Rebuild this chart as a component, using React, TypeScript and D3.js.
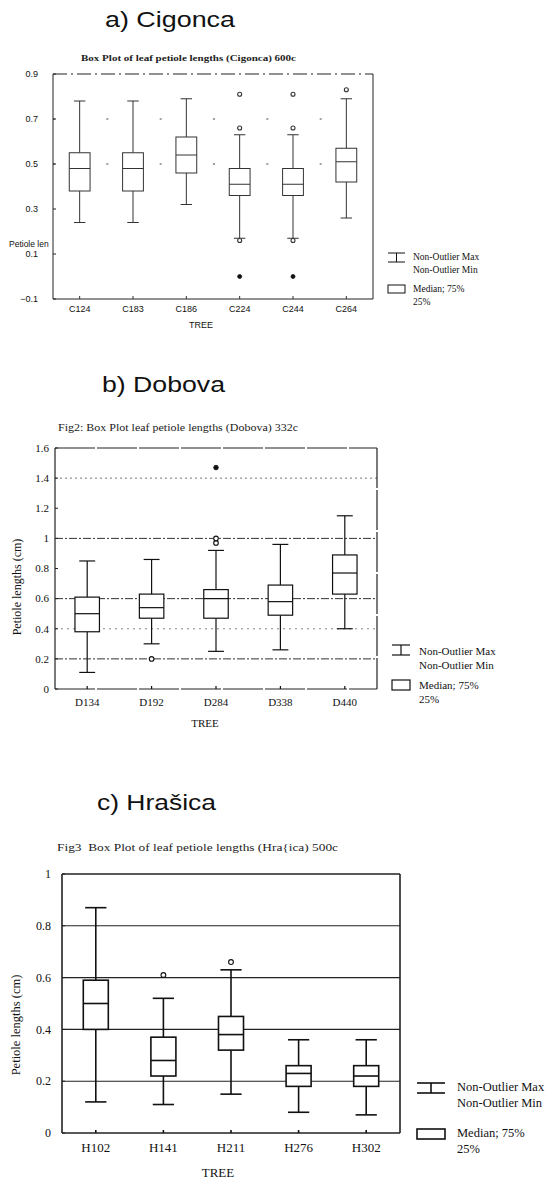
import React from 'react';
import * as d3 from 'd3';

// a) Cigonca
const cigTrees = ['C124', 'C183', 'C186', 'C224', 'C244', 'C264'];
const cigMin = [0.24, 0.24, 0.32, 0.17, 0.17, 0.26];
const cigQ1 = [0.38, 0.38, 0.46, 0.36, 0.36, 0.42];
const cigMed = [0.48, 0.48, 0.54, 0.41, 0.41, 0.51];
const cigQ3 = [0.55, 0.55, 0.62, 0.48, 0.48, 0.57];
const cigMax = [0.78, 0.78, 0.79, 0.63, 0.63, 0.79];
const cigOutliers = [[], [], [], [0.66, 0.81, 0.16], [0.66, 0.81, 0.16], [0.83]];
const cigExtremes = [[], [], [], [0.0], [0.0], []];
const cigTicks = [-0.1, 0.1, 0.3, 0.5, 0.7, 0.9];

// b) Dobova
const dobTrees = ['D134', 'D192', 'D284', 'D338', 'D440'];
const dobMin = [0.11, 0.3, 0.25, 0.26, 0.4];
const dobQ1 = [0.38, 0.47, 0.47, 0.49, 0.63];
const dobMed = [0.5, 0.54, 0.6, 0.58, 0.77];
const dobQ3 = [0.61, 0.63, 0.66, 0.69, 0.89];
const dobMax = [0.85, 0.86, 0.92, 0.96, 1.15];
const dobOutliers = [[], [0.2], [0.97, 1.0], [], []];
const dobExtremes = [[], [], [1.47], [], []];
const dobTicks = [0, 0.2, 0.4, 0.6, 0.8, 1, 1.2, 1.4, 1.6];

// c) Hrašica
const hraTrees = ['H102', 'H141', 'H211', 'H276', 'H302'];
const hraMin = [0.12, 0.11, 0.15, 0.08, 0.07];
const hraQ1 = [0.4, 0.22, 0.32, 0.18, 0.18];
const hraMed = [0.5, 0.28, 0.38, 0.23, 0.22];
const hraQ3 = [0.59, 0.37, 0.45, 0.26, 0.26];
const hraMax = [0.87, 0.52, 0.63, 0.36, 0.36];
const hraOutliers = [[], [0.61], [0.66], [], []];
const hraTicks = [0, 0.2, 0.4, 0.6, 0.8, 1];

const legendLabels = ['Non-Outlier Max', 'Non-Outlier Min', 'Median; 75%', '25%'];

const SANS = '"Liberation Sans", Arial, sans-serif';
const SERIF = '"Liberation Serif", "Times New Roman", serif';

type Grid = { v: number; dash: string; color: string; width: number };

type PanelProps = {
  title: string;
  titleX: number;
  titleY: number;
  titleLen: number;
  sub: string;
  subX: number;
  subY: number;
  subLen: number;
  subSize: number;
  subBold?: boolean;
  trees: string[];
  mins: number[];
  q1: number[];
  med: number[];
  q3: number[];
  maxs: number[];
  outliers: number[][];
  extremes: number[][];
  domain: [number, number];
  ticks: number[];
  fmt: (v: number) => string;
  grid: Grid[];
  x0: number;
  x1: number;
  y0: number;
  y1: number;
  font: string;
  tickSize: number;
  tickX: number;
  catSize: number;
  catY: number;
  treeX: number;
  treeY: number;
  yLabel: string;
  yLabelRot: boolean;
  yLabelX: number;
  yLabelY: number;
  yLabelSize: number;
  lw: number;
  stroke: string;
  boxRatio: number;
  capRatio: number;
  r: number;
  topDash?: string;
  frameDash?: string;
  leg: { x: number; w: number; tx: number; size: number; wy: [number, number]; by: [number, number]; ty: number[] };
};

function BoxPanel(p: PanelProps) {
  const x = d3.scaleBand().domain(p.trees).range([p.x0, p.x1]);
  const y = d3.scaleLinear().domain(p.domain).range([p.y1, p.y0]);
  const bw = x.bandwidth() * p.boxRatio;
  const cw = bw * p.capRatio;
  const cx = (t: string) => (x(t) as number) + x.bandwidth() / 2;
  const dotDash = `2 ${x.bandwidth() - 2}`;

  return (
    <g>
      <text x={p.titleX} y={p.titleY} fontFamily={SANS} fontSize={22} textLength={p.titleLen}
        lengthAdjust="spacingAndGlyphs" fill="#111">{p.title}</text>
      <text x={p.subX} y={p.subY} fontFamily={SERIF} fontSize={p.subSize} fontWeight={p.subBold ? 'bold' : 'normal'}
        textLength={p.subLen} lengthAdjust="spacingAndGlyphs" fill="#222">{p.sub}</text>

      {p.grid.map((g, i) => (
        <line key={'g' + i} x1={p.x0} x2={p.x1} y1={y(g.v)} y2={y(g.v)} stroke={g.color}
          strokeWidth={g.width} strokeDasharray={g.dash === 'band' ? dotDash : g.dash} />
      ))}

      {/* frame */}
      <line x1={p.x0} x2={p.x1} y1={p.y0} y2={p.y0} stroke="#222" strokeWidth={p.lw}
        strokeDasharray={p.topDash} />
      <line x1={p.x0} x2={p.x1} y1={p.y1} y2={p.y1} stroke="#222" strokeWidth={p.lw}
        strokeDasharray={p.frameDash} />
      <line x1={p.x0} x2={p.x0} y1={p.y0} y2={p.y1} stroke="#222" strokeWidth={p.lw} />
      <line x1={p.x1} x2={p.x1} y1={p.y0} y2={p.y1} stroke="#222" strokeWidth={p.lw}
        strokeDasharray={p.frameDash} />

      {p.ticks.map((t) => (
        <g key={'t' + t}>
          <line x1={p.x0} x2={p.x0 + 3} y1={y(t)} y2={y(t)} stroke="#222" strokeWidth={1} />
          <text x={p.tickX} y={y(t)} dy="0.35em" textAnchor="end" fontFamily={p.font}
            fontSize={p.tickSize} fill="#111">{p.fmt(t)}</text>
        </g>
      ))}

      {p.trees.map((t, i) => {
        const c = cx(t);
        return (
          <g key={t} stroke={p.stroke} strokeWidth={p.lw} fill="none">
            <line x1={c} x2={c} y1={y(p.q3[i])} y2={y(p.maxs[i])} />
            <line x1={c} x2={c} y1={y(p.q1[i])} y2={y(p.mins[i])} />
            <line x1={c - cw / 2} x2={c + cw / 2} y1={y(p.maxs[i])} y2={y(p.maxs[i])} />
            <line x1={c - cw / 2} x2={c + cw / 2} y1={y(p.mins[i])} y2={y(p.mins[i])} />
            <rect x={c - bw / 2} y={y(p.q3[i])} width={bw} height={y(p.q1[i]) - y(p.q3[i])} fill="#fff" />
            <line x1={c - bw / 2} x2={c + bw / 2} y1={y(p.med[i])} y2={y(p.med[i])} />
            {p.outliers[i].map((o, j) => (
              <circle key={'o' + j} cx={c} cy={y(o)} r={p.r} fill="#fff" strokeWidth={1.1} />
            ))}
            {p.extremes[i].map((o, j) => (
              <circle key={'e' + j} cx={c} cy={y(o)} r={p.r} fill="#111" stroke="#111" strokeWidth={0.8} />
            ))}
            <line x1={c} x2={c} y1={p.y1} y2={p.y1 - 3} />
            <text x={c} y={p.catY} textAnchor="middle" fontFamily={p.font} fontSize={p.catSize}
              fill="#111" stroke="none">{t}</text>
          </g>
        );
      })}

      <text x={p.treeX} y={p.treeY} textAnchor="middle" fontFamily={p.font}
        fontSize={p.catSize} fill="#111">TREE</text>

      {p.yLabelRot ? (
        <text transform={`translate(${p.yLabelX},${p.yLabelY}) rotate(-90)`} textAnchor="middle"
          fontFamily={SERIF} fontSize={p.yLabelSize} fill="#111">{p.yLabel}</text>
      ) : (
        <text x={p.yLabelX} y={p.yLabelY} fontFamily={SANS} fontSize={p.yLabelSize} fill="#111">{p.yLabel}</text>
      )}

      {/* legend */}
      <g stroke="#111" strokeWidth={p.lw} fill="none">
        <line x1={p.leg.x} x2={p.leg.x + p.leg.w} y1={p.leg.wy[0]} y2={p.leg.wy[0]} />
        <line x1={p.leg.x} x2={p.leg.x + p.leg.w} y1={p.leg.wy[1]} y2={p.leg.wy[1]} />
        <line x1={p.leg.x + p.leg.w / 2} x2={p.leg.x + p.leg.w / 2} y1={p.leg.wy[0]} y2={p.leg.wy[1]} />
        <rect x={p.leg.x} y={p.leg.by[0]} width={p.leg.w} height={p.leg.by[1] - p.leg.by[0]} />
      </g>
      {legendLabels.map((s, i) => (
        <text key={s} x={p.leg.tx} y={p.leg.ty[i]} fontFamily={SERIF} fontSize={p.leg.size} fill="#111">{s}</text>
      ))}
    </g>
  );
}

const fmtDot = (v: number) => (Math.abs(v) < 1e-9 ? '0' : d3.format('.1f')(v).replace('.0', ''));

export default function App() {
  return (
    <div style={{ position: 'absolute', left: 0, top: 0, background: '#fff' }}>
      <svg width={550} height={1179} style={{ display: 'block' }}>
        <rect width={550} height={1179} fill="#fff" />
        <BoxPanel
          title="a) Cigonca" titleX={105} titleY={27} titleLen={130}
          sub="Box Plot of leaf petiole lengths (Cigonca) 600c" subX={81} subY={61} subLen={215} subSize={8} subBold
          trees={cigTrees} mins={cigMin} q1={cigQ1} med={cigMed} q3={cigQ3} maxs={cigMax}
          outliers={cigOutliers} extremes={cigExtremes}
          domain={[-0.1, 0.9]} ticks={cigTicks} fmt={(v) => d3.format('.1f')(v)}
          grid={[
            { v: 0.7, dash: 'band', color: '#444', width: 1 },
            { v: 0.5, dash: 'band', color: '#444', width: 1 },
          ]}
          x0={53} x1={373} y0={74} y1={299}
          font={SANS} tickSize={9} tickX={38} catSize={9} catY={312} treeX={201} treeY={328}
          yLabel="Petiole len" yLabelRot={false} yLabelX={9} yLabelY={247} yLabelSize={8.5}
          lw={1} stroke="#333" boxRatio={0.39} capRatio={0.55} r={2} topDash="14,4,2,4"
          leg={{ x: 388, w: 17, tx: 413, size: 9.5, wy: [253, 262], by: [285, 293], ty: [260, 273, 292, 305] }}
        />
        <BoxPanel
          title="b) Dobova" titleX={102} titleY={392} titleLen={123}
          sub="Fig2: Box Plot leaf petiole lengths (Dobova) 332c" subX={58} subY={431} subLen={240} subSize={10}
          trees={dobTrees} mins={dobMin} q1={dobQ1} med={dobMed} q3={dobQ3} maxs={dobMax}
          outliers={dobOutliers} extremes={dobExtremes}
          domain={[0, 1.6]} ticks={dobTicks} fmt={fmtDot}
          grid={[
            { v: 1.4, dash: '2,3', color: '#777', width: 1 },
            { v: 1.0, dash: '8,2,2,2', color: '#333', width: 1 },
            { v: 0.6, dash: '8,2,2,2', color: '#333', width: 1 },
            { v: 0.4, dash: '2,4', color: '#888', width: 1 },
            { v: 0.2, dash: '8,2,2,2', color: '#333', width: 1 },
          ]}
          x0={55} x1={377} y0={448} y1={689}
          font={SERIF} tickSize={11} tickX={49} catSize={11} catY={706} treeX={205} treeY={727}
          yLabel="Petiole lengths (cm)" yLabelRot yLabelX={21} yLabelY={587} yLabelSize={12}
          lw={1.2} stroke="#111" boxRatio={0.38} capRatio={0.65} r={2.3} topDash="40,2" frameDash="40,2"
          leg={{ x: 392, w: 18, tx: 419, size: 11, wy: [645, 655], by: [680, 690], ty: [655, 669, 689, 703] }}
        />
        <BoxPanel
          title="c) Hrašica" titleX={97} titleY={810} titleLen={119}
          sub={'Fig3\u00a0 Box Plot of leaf petiole lengths (Hra{ica) 500c'} subX={57} subY={851} subLen={281} subSize={10.5}
          trees={hraTrees} mins={hraMin} q1={hraQ1} med={hraMed} q3={hraQ3} maxs={hraMax}
          outliers={hraOutliers} extremes={[[], [], [], [], []]}
          domain={[0, 1]} ticks={hraTicks} fmt={fmtDot}
          grid={[
            { v: 0.8, dash: '', color: '#222', width: 1.1 },
            { v: 0.6, dash: '', color: '#222', width: 1.1 },
            { v: 0.4, dash: '', color: '#222', width: 1.1 },
            { v: 0.2, dash: '', color: '#222', width: 1.1 },
          ]}
          x0={62} x1={400} y0={874} y1={1133}
          font={SERIF} tickSize={12} tickX={51} catSize={13} catY={1152} treeX={218} treeY={1177}
          yLabel="Petiole lengths (cm)" yLabelRot yLabelX={20} yLabelY={1025} yLabelSize={12.5}
          lw={1.6} stroke="#111" boxRatio={0.37} capRatio={0.85} r={2.4}
          leg={{ x: 417, w: 28, tx: 457, size: 12.5, wy: [1083, 1093], by: [1129, 1139], ty: [1091, 1107, 1137, 1153] }}
        />
      </svg>
    </div>
  );
}
